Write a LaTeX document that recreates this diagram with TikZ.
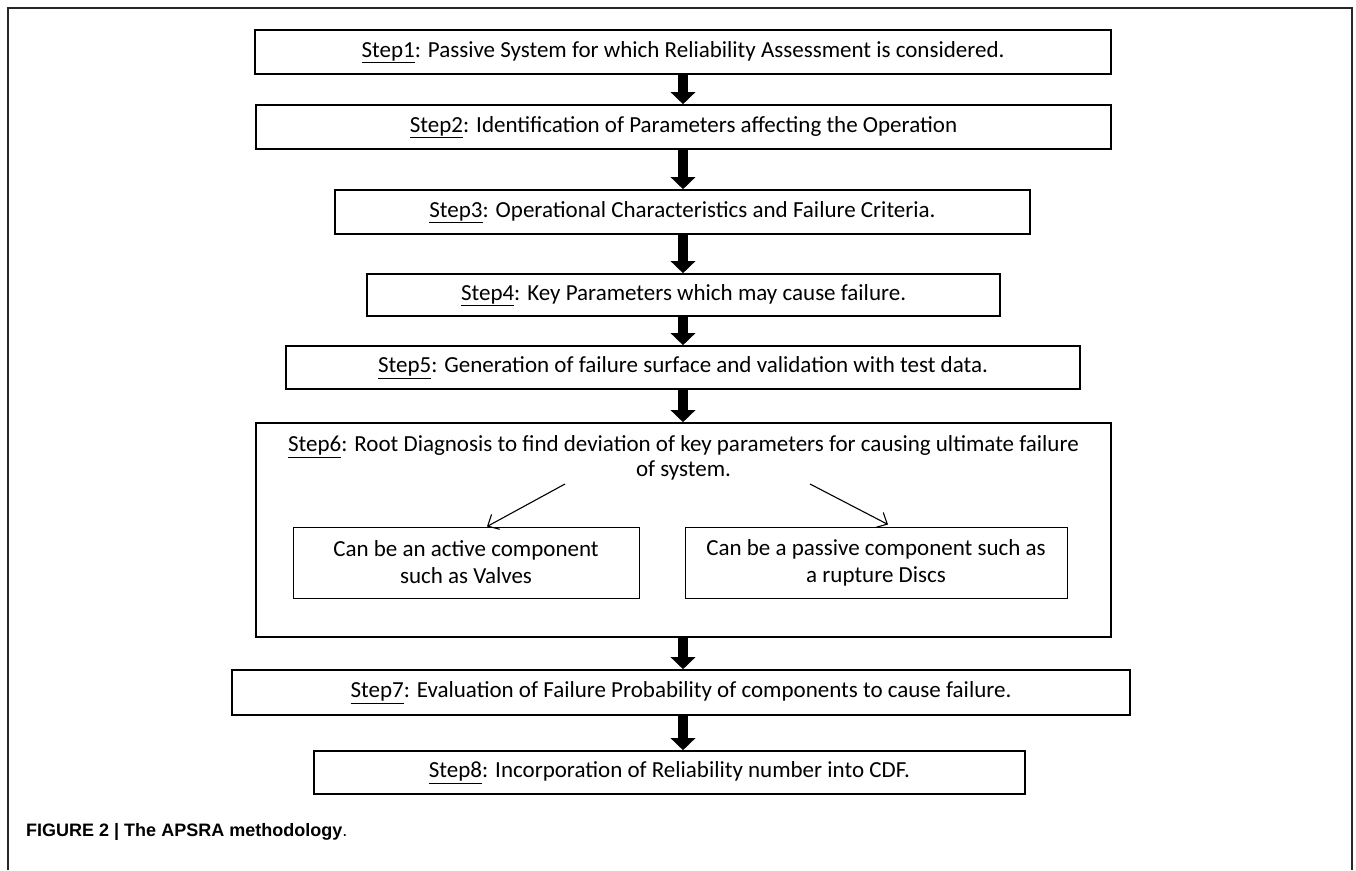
\documentclass[tikz,border=0pt]{standalone}
\usepackage{fontspec}
\setmainfont{Carlito}
\newfontfamily\capfont{Liberation Sans}
\usetikzlibrary{positioning, arrows.meta, calc}

\begin{document}
\begin{tikzpicture}[x=1pt, y=-1pt,
      s/.style={draw, line width=1.6pt, font=\fontsize{23}{25}\selectfont, minimum height=44pt, inner sep=0pt, align=center},
      sub/.style={draw, line width=1pt, font=\fontsize{23}{27}\selectfont, minimum height=71pt, inner sep=0pt, align=center},
      blk/.style={line width=10pt, -{Triangle[width=24pt,length=12pt]}},
      thn/.style={line width=1.1pt, -{Straight Barb[length=9pt,width=17pt]}}]
    \useasboundingbox (0,0) rectangle (1356,870);
    \draw[line width=1.2pt, black!85] (8,870) -- (8,8) -- (1352,8) -- (1352,870);
    \node[s, minimum width=856pt] (b1) at (683,52) {\underline{Step1}: Passive System for which Reliability Assessment is considered.};
    \node[s, minimum width=855pt] (b2) at (683.5,127) {\underline{Step2}: Identification of Parameters affecting the Operation};
    \node[s, minimum width=695pt] (b3) at (682.5,212) {\underline{Step3}: Operational Characteristics and Failure Criteria.};
    \node[s, minimum width=633pt, minimum height=42pt] (b4) at (683.5,295) {\underline{Step4}: Key Parameters which may cause failure.};
    \node[s, minimum width=794pt, minimum height=43pt] (b5) at (683,367.5) {\underline{Step5}: Generation of failure surface and validation with test data.};
    \node[s, minimum width=855pt, minimum height=214pt] (b6) at (683.5,530) {};
    \node[font=\fontsize{23}{25}\selectfont, align=center, inner sep=0pt] (t6) at (683.5,458) {\underline{Step6}: Root Diagnosis to find deviation of key parameters for causing ultimate failure\\of system.};
    \node[sub, minimum width=346pt] (s1) at (466,562.5) {Can be an active component\\such as Valves};
    \node[sub, minimum width=382pt] (s2) at (876,562.5) {Can be a passive component such as\\a rupture Discs};
    \node[s, minimum width=898pt, minimum height=45pt] (b7) at (681,692.5) {\underline{Step7}: Evaluation of Failure Probability of components to cause failure.};
    \node[s, minimum width=711pt, minimum height=43pt] (b8) at (669.5,772.5) {\underline{Step8}: Incorporation of Reliability number into CDF.};
    \node[font=\capfont\fontsize{18}{20}\selectfont, anchor=west, inner sep=0pt] (cap) at (26,832) {\bfseries FIGURE 2 | The APSRA methodology\mdseries.};
    % block arrows down the middle
    \coordinate (ax) at (683,0);
    \draw[blk] (b1.south -| ax) -- (b2.north -| ax);
    \draw[blk] (b2.south -| ax) -- (b3.north -| ax);
    \draw[blk] (b3.south -| ax) -- (b4.north -| ax);
    \draw[blk] (b4.south -| ax) -- (b5.north -| ax);
    \draw[blk] (b5.south -| ax) -- (b6.north -| ax);
    \draw[blk] (b6.south -| ax) -- (b7.north -| ax);
    \draw[blk] (b7.south -| ax) -- (b8.north -| ax);
    % split inside step 6
    \coordinate (d1) at (565,484);
    \coordinate (d2) at (810,484);
    \draw[thn] (d1) -- ($(s1.north)+(21,0)$);
    \draw[thn] (d2) -- ($(s2.north)+(12,-2)$);
  \end{tikzpicture}
\end{document}
